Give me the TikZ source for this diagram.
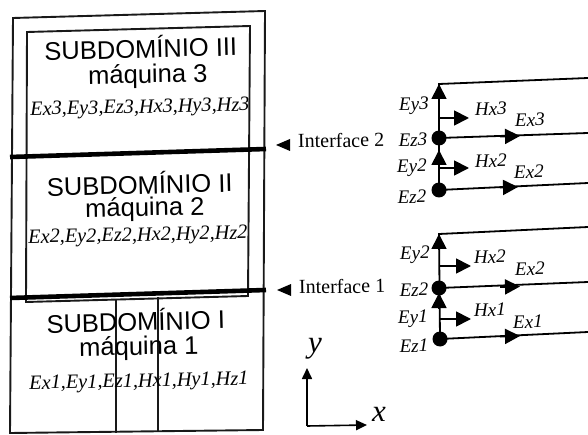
\documentclass[tikz,border=0pt]{standalone}
\usepackage{fontspec}
\setmainfont{Liberation Serif}
\newfontfamily\arialf{Liberation Sans}
\usetikzlibrary{arrows.meta,calc}
\tikzset{
  frame/.style={line width=1.9pt,black!90},
  heavy/.style={line width=4.6pt,black},
  thin rule/.style={line width=1.5pt,black!90},
  title/.style={font=\arialf\fontsize{25.5}{28}\selectfont,inner sep=0pt,anchor=base,rotate=1.4},
  sub/.style={font=\arialf\fontsize{25.5}{28}\selectfont,inner sep=0pt,anchor=base,rotate=1},
  fields/.style={font=\fontsize{20.3}{22}\selectfont\itshape,inner sep=0pt,anchor=base,rotate=1.2},
  iface/.style={font=\fontsize{20}{22}\selectfont,inner sep=0pt,anchor=base west,rotate=1},
  comp/.style={font=\fontsize{19}{21}\selectfont\itshape,inner sep=0pt,anchor=base,rotate=1},
  axis label/.style={font=\fontsize{31}{33}\selectfont\itshape,inner sep=0pt,anchor=base},
  dot/.style={circle,fill=black,inner sep=0pt,minimum size=15pt},
  wire/.style={line width=1.8pt,black},
  tipped/.style={wire,-{Triangle[length=15pt,width=15pt]}},
  pointer/.style={fill=black,draw=none,inner sep=0pt}
}
\newcommand{\pointerat}[1]{\fill[pointer] (#1) -- ++(14,6) -- ++(0,-12) -- cycle;}
\begin{document}
\begin{tikzpicture}[x=1pt,y=1pt]
\useasboundingbox (0,0) rectangle (588,-435);
% frames
\coordinate (oTL) at (13,-18); \coordinate (oTR) at (265,-11);
\coordinate (oBL) at (10,-433); \coordinate (oBR) at (263,-430);
\coordinate (iTL) at (27,-32); \coordinate (iTR) at (250,-26);
\coordinate (iBL) at (26,-302); \coordinate (iBR) at (248,-296);
\draw[frame] (oTL) -- (oTR) -- (oBR) -- (oBL) -- cycle;
\draw[frame] (iTL) -- (iTR) -- (iBR) -- (iBL) -- cycle;
% vertical rules in subdomain I
\coordinate (v1t) at (116,-299); \coordinate (v1b) at (116,-433);
\coordinate (v2t) at (158,-297); \coordinate (v2b) at (158,-432);
\draw[thin rule] (v1t) -- (v1b);
\draw[thin rule] (v2t) -- (v2b);
% interfaces
\coordinate (h2l) at (10,-157); \coordinate (h2r) at (266,-149);
\coordinate (h1l) at (10,-298); \coordinate (h1r) at (266,-290);
\draw[heavy] (h2l) -- (h2r);
\draw[heavy] (h1l) -- (h1r);
% left texts
\node[title] (t3) at (141,-58) {SUBDOMÍNIO III};
\node[sub] (m3) at (148,-83) {máquina 3};
\node[fields] (f3) at (140,-113) {Ex3,Ey3,Ez3,Hx3,Hy3,Hz3};
\node[title] (t2) at (140,-194) {SUBDOMÍNIO II};
\node[sub] (m2) at (145,-216) {máquina 2};
\node[fields] (f2) at (138,-241) {Ex2,Ey2,Ez2,Hx2,Hy2,Hz2};
\node[title] (t1) at (136,-331) {SUBDOMÍNIO I};
\node[sub] (m1) at (139,-355) {máquina 1};
\node[fields] (f1) at (139,-387) {Ex1,Ey1,Ez1,Hx1,Hy1,Hz1};
% interface labels
\pointerat{276,-145}
\node[iface] (i2) at (298,-148) {Interface 2};
\pointerat{277,-290}
\node[iface] (i1) at (299,-294) {Interface 1};
% upper cell
\node[dot] (ez3) at (439,-138) {};
\node[dot] (ez2u) at (439,-190) {};
\coordinate (top3) at (439,-84); \coordinate (top3r) at (588,-78);
\coordinate (ex3r) at (588,-133); \coordinate (ex2r) at (588,-183);
\draw[wire] (ez2u.center) -- (top3) -- (top3r);
\draw[wire] (ez3.center) -- (ex3r);
\draw[wire] (ez2u.center) -- (ex2r);
\coordinate (ay3) at (439,-100); \draw[tipped] (ay3) -- (top3);
\coordinate (ay2) at (439,-166); \coordinate (ay2t) at (439,-150); \draw[tipped] (ay2) -- (ay2t);
\coordinate (hx3a) at (439,-118); \coordinate (hx3b) at (469,-118); \draw[tipped] (hx3a) -- (hx3b);
\coordinate (hx2a) at (439,-168); \coordinate (hx2b) at (469,-168); \draw[tipped] (hx2a) -- (hx2b);
\coordinate (ex3a) at (500,-136.5); \coordinate (ex3b) at (520,-136); \draw[tipped] (ex3a) -- (ex3b);
\coordinate (ex2a) at (500,-187.5); \coordinate (ex2b) at (518,-187); \draw[tipped] (ex2a) -- (ex2b);
\node[comp] (ey3l) at (414,-110) {Ey3};
\node[comp] (hx3l) at (491,-115) {Hx3};
\node[comp] (ex3l) at (530,-126) {Ex3};
\node[comp] (ez3l) at (413,-146) {Ez3};
\node[comp] (ey2l) at (412,-172) {Ey2};
\node[comp] (hx2l) at (491,-167) {Hx2};
\node[comp] (ex2l) at (529,-178) {Ex2};
\node[comp] (ez2l) at (412,-203) {Ez2};
% lower cell
\node[dot] (ez2d) at (439,-288) {};
\node[dot] (ez1) at (440,-339) {};
\coordinate (top2) at (439,-234); \coordinate (top2r) at (588,-227);
\coordinate (ex2dr) at (588,-282); \coordinate (ex1r) at (588,-332);
\draw[wire] (ez1.center) -- (top2) -- (top2r);
\draw[wire] (ez2d.center) -- (ex2dr);
\draw[wire] (ez1.center) -- (ex1r);
\coordinate (by2) at (439,-250); \draw[tipped] (by2) -- (top2);
\coordinate (by1) at (439,-309); \coordinate (by1t) at (439,-293); \draw[tipped] (by1) -- (by1t);
\coordinate (hx2da) at (439,-266); \coordinate (hx2db) at (471,-266); \draw[tipped] (hx2da) -- (hx2db);
\coordinate (hx1a) at (439,-319); \coordinate (hx1b) at (471,-319); \draw[tipped] (hx1a) -- (hx1b);
\coordinate (ex2da) at (500,-287); \coordinate (ex2db) at (520,-286.5); \draw[tipped] (ex2da) -- (ex2db);
\coordinate (ex1a) at (500,-336.5); \coordinate (ex1b) at (520,-336); \draw[tipped] (ex1a) -- (ex1b);
\node[comp] (ey2dl) at (415,-259) {Ey2};
\node[comp] (hx2dl) at (490,-263) {Hx2};
\node[comp] (ex2dl) at (530,-275) {Ex2};
\node[comp] (ez2dl) at (414,-296) {Ez2};
\node[comp] (ey1l) at (413,-323) {Ey1};
\node[comp] (hx1l) at (490,-316) {Hx1};
\node[comp] (ex1l) at (528,-328) {Ex1};
\node[comp] (ez1l) at (414,-352) {Ez1};
% axes
\coordinate (org) at (307,-426);
\coordinate (ytip) at (307,-368); \coordinate (xtip) at (367,-425);
\draw[line width=1.6pt,-{Triangle[length=11pt,width=10pt]}] (org) -- (ytip);
\draw[line width=1.6pt,-{Triangle[length=11pt,width=10pt]}] (org) -- (xtip);
\node[axis label] (ylab) at (315,-352) {y};
\node[axis label] (xlab) at (379,-421) {x};
\end{tikzpicture}
\end{document}
